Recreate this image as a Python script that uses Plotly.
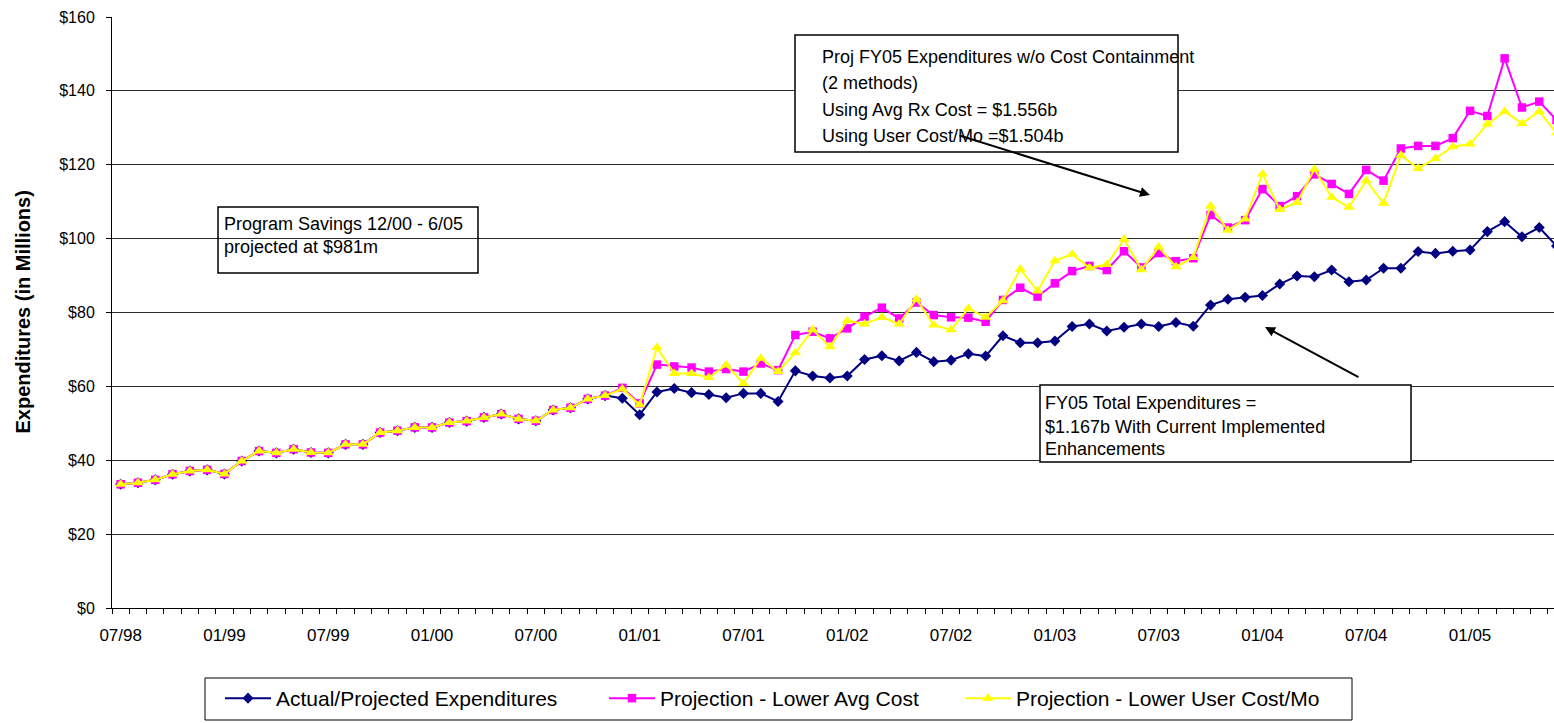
import plotly.graph_objects as go

# ---------------- data ----------------
months = []
_y, _m = 1998, 7
for _ in range(84):
    months.append(f"{_m:02d}/{_y % 100:02d}")
    _m += 1
    if _m > 12:
        _m, _y = 1, _y + 1

actual_projected = [
    33.5, 33.9, 34.7, 36.2, 37.1, 37.4, 36.3, 39.8, 42.5, 42.0, 43.0, 42.1, 42.0, 44.3, 44.3,
    47.5, 48.0, 48.9, 48.9, 50.2, 50.6, 51.6, 52.5, 51.2, 50.7, 53.6, 54.2, 56.6, 57.5,
    56.8, 52.3, 58.5, 59.4, 58.3, 57.8, 56.9, 58.1, 58.1, 55.9,
    64.2, 62.8, 62.3, 62.8, 67.3, 68.3, 66.9, 69.2, 66.7, 67.1,
    68.8, 68.2, 73.7, 71.8, 71.8, 72.3, 76.2, 76.9, 75.0, 76.0,
    76.9, 76.2, 77.3, 76.3, 82.0, 83.6, 84.1, 84.6, 87.7, 89.9,
    89.7, 91.5, 88.3, 88.8, 92.0, 92.0, 96.5, 96.0, 96.6, 96.9,
    101.9, 104.6, 100.5, 103.0, 98.0,
]
lower_avg_cost = [
    33.5, 33.9, 34.7, 36.2, 37.1, 37.4, 36.3, 39.8, 42.5, 42.0, 43.0, 42.1, 42.0, 44.3, 44.3,
    47.5, 48.0, 48.9, 48.9, 50.2, 50.6, 51.6, 52.5, 51.2, 50.7, 53.6, 54.2, 56.6, 57.5,
    59.6, 55.4, 65.9, 65.4, 65.1, 64.0, 64.7, 64.0, 66.2, 64.4,
    73.9, 74.8, 73.0, 75.7, 78.9, 81.3, 78.4, 82.7, 79.3, 78.7,
    78.6, 77.5, 83.4, 86.7, 84.3, 87.9, 91.2, 92.6, 91.5, 96.6,
    92.2, 96.1, 93.9, 94.7, 106.4, 103.0, 105.0, 113.4, 108.8, 111.5,
    117.4, 114.8, 112.1, 118.6, 115.7, 124.4, 125.1, 125.1, 127.2, 134.6,
    133.2, 148.8, 135.5, 137.1, 132.1,
]
lower_user_cost = [
    33.5, 33.9, 34.7, 36.2, 37.1, 37.4, 36.3, 39.8, 42.5, 42.0, 43.0, 42.1, 42.0, 44.3, 44.3,
    47.5, 48.0, 48.9, 48.9, 50.2, 50.6, 51.6, 52.5, 51.2, 50.7, 53.6, 54.2, 56.6, 57.5,
    59.3, 55.0, 70.5, 63.5, 63.5, 62.4, 65.8, 60.8, 67.6, 64.0,
    69.1, 75.3, 70.7, 77.8, 76.9, 78.7, 76.9, 83.6, 76.6, 75.3,
    81.1, 78.7, 83.2, 91.7, 85.8, 94.0, 95.8, 92.1, 93.0, 99.8,
    91.6, 97.7, 92.4, 94.9, 108.8, 102.3, 105.3, 117.5, 107.9, 109.8,
    118.8, 111.2, 108.5, 115.7, 109.6, 122.6, 119.0, 121.7, 124.9, 125.6,
    131.0, 134.4, 131.2, 134.4, 128.6,
]
series_names = ["Actual/Projected Expenditures", "Projection - Lower Avg Cost",
                "Projection - Lower User Cost/Mo"]
y_ticks = [0, 20, 40, 60, 80, 100, 120, 140, 160]
label_every = 6

box1_lines = ["Proj FY05 Expenditures w/o Cost Containment", "(2 methods)",
              "Using Avg Rx Cost = $1.556b", "Using User Cost/Mo =$1.504b"]
box2_lines = ["Program Savings 12/00 - 6/05", "projected at $981m"]
box3_lines = ["FY05 Total Expenditures =", "$1.167b With Current Implemented", "Enhancements"]

# ---------------- layout helpers ----------------
W, H = 1554, 723
L, R, T, B = 112, 0, 17, 115
PW, PH = W - L - R, H - T - B
FONT = "Liberation Sans, Arial, sans-serif"


def px(x):
    return (x - L) / PW


def py(y):
    return (T + PH - y) / PH


xs = list(range(len(months)))

fig = go.Figure()
styles = [
    dict(color="#000080", symbol="diamond", size=8.5, lw=2, legendwidth=323),
    dict(color="#FF00FF", symbol="square", size=8.5, lw=2, legendwidth=295),
    dict(color="#FFFF00", symbol="triangle-up", size=10, lw=2, legendwidth=300),
]
for name, vals, st in zip(series_names, [actual_projected, lower_avg_cost, lower_user_cost], styles):
    fig.add_trace(go.Scatter(
        x=xs, y=vals, name=name, mode="lines+markers",
        line=dict(color=st["color"], width=st["lw"]),
        marker=dict(color=st["color"], symbol=st["symbol"], size=st["size"], line=dict(width=0)),
        legendwidth=st["legendwidth"],
    ))

tick_idx = xs[::label_every]
fig.update_xaxes(
    range=[-0.5, -0.5 + PW / 17.3], tickmode="array", tickvals=tick_idx,
    ticktext=[months[i] for i in tick_idx], ticks="", showgrid=False, zeroline=False,
    showline=True, linecolor="#000000", linewidth=1,
    tickfont=dict(family=FONT, size=17, color="#000"), ticklabelstandoff=12,
    minor=dict(tick0=-0.5, dtick=1, ticks="outside", ticklen=5, tickcolor="#000", showgrid=False),
)
fig.update_yaxes(
    range=[0, 160], tickmode="array", tickvals=y_ticks, ticktext=[f"${v}" for v in y_ticks],
    ticks="outside", ticklen=5, tickcolor="#000", showgrid=True, gridcolor="#2a2a2a", gridwidth=1,
    zeroline=False, showline=True, linecolor="#000000", linewidth=1,
    tickfont=dict(family=FONT, size=16, color="#000"), ticklabelstandoff=8,
)

shapes = []
annotations = []


def add_box(x0, y0, x1, y1, fill, width=1.5):
    shapes.append(dict(type="rect", xref="paper", yref="paper", x0=px(x0), x1=px(x1), y0=py(y1), y1=py(y0),
                       line=dict(color="#000", width=width), fillcolor=fill, layer="above"))


def add_lines(lines, x, ys, size=18):
    for text, yc in zip(lines, ys):
        annotations.append(dict(text=text, xref="paper", yref="paper", x=px(x), y=py(yc),
                                xanchor="left", yanchor="middle", showarrow=False,
                                font=dict(family=FONT, size=size, color="#000")))


add_box(795, 35, 1178, 152, "white")
add_lines(box1_lines, 820, [57, 83, 110, 136])
add_box(218, 207, 478, 273, "rgba(0,0,0,0)")
add_lines(box2_lines, 222, [224, 247])
add_box(1040, 385, 1411, 462, "white")
add_lines(box3_lines, 1043, [403, 427, 449])

# legend frame
add_box(205, 678, 1352, 720, "rgba(0,0,0,0)", width=1)


def add_arrow(x_tail, y_tail, x_head, y_head):
    annotations.append(dict(text="", xref="paper", yref="paper", x=px(x_head), y=py(y_head),
                            ax=x_tail - x_head, ay=y_tail - y_head, axref="pixel", ayref="pixel",
                            showarrow=True, arrowhead=2, arrowsize=1, arrowwidth=2,
                            arrowcolor="#000", standoff=0, startstandoff=0))


add_arrow(958, 135, 1150, 195)
add_arrow(1360, 378, 1265, 327)

annotations.append(dict(text="<b>Expenditures (in Millions)</b>", xref="paper", yref="paper",
                        x=px(22), y=0.5, xanchor="center", yanchor="middle", textangle=-90,
                        showarrow=False, font=dict(family=FONT, size=20, color="#000")))

fig.update_layout(
    width=W, height=H, margin=dict(l=L, r=R, t=T, b=B, pad=0),
    paper_bgcolor="white", plot_bgcolor="white",
    shapes=shapes, annotations=annotations,
    showlegend=True,
    legend=dict(orientation="h", x=px(220), y=py(678), xanchor="left", yanchor="top",
                borderwidth=0, bgcolor="rgba(0,0,0,0)", itemwidth=46,
                font=dict(family=FONT, size=21, color="#000"), traceorder="normal"),
)

fig.write_html("out.html", config={"displayModeBar": False},
               post_script="document.body.style.margin='0';")
